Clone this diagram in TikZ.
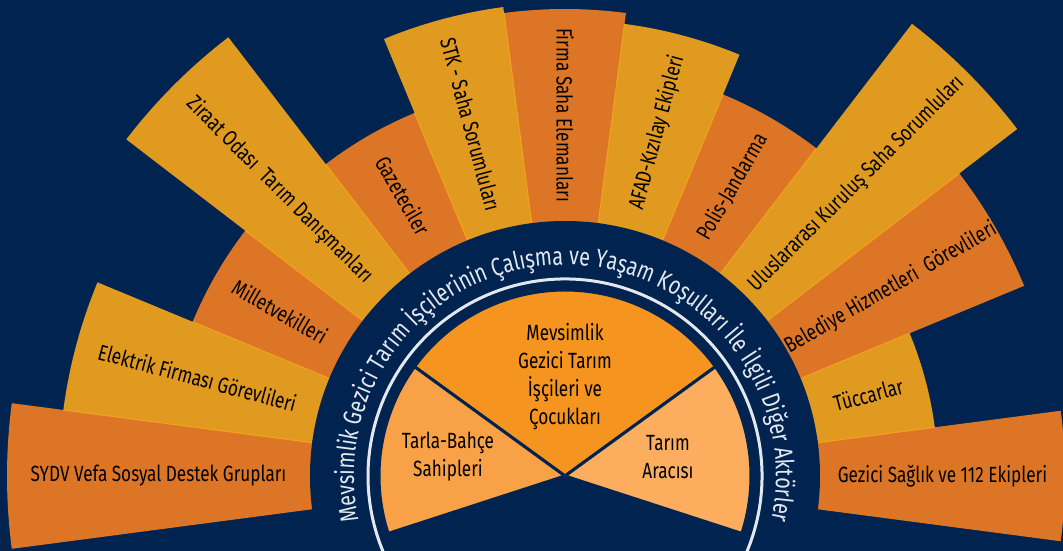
\documentclass[tikz,border=0pt]{standalone}
\usepackage{fontspec}
\setmainfont{Fira Sans}[FakeStretch=0.78]
\newfontfamily\ringfont{Fira Sans}[FakeStretch=0.78]
\usetikzlibrary{decorations.text}
\definecolor{navybg}{HTML}{00244F}
\definecolor{darkor}{HTML}{DC7626}
\definecolor{goldor}{HTML}{E09A20}
\definecolor{sepline}{HTML}{F5A21E}
\definecolor{coreor}{HTML}{F5941F}
\definecolor{leftor}{HTML}{F9A146}
\definecolor{rightor}{HTML}{FCAE5E}
\definecolor{ringtext}{HTML}{E3E8F0}

\begin{document}
\begin{tikzpicture}[x=1pt,y=1pt,
    wedgelabel/.style={font=\fontsize{22}{24}\selectfont, text=black},
    corelabel/.style={font=\fontsize{22}{28}\selectfont, text=black, align=center},
    inner/.style={draw=navybg, line width=3pt}]
  \useasboundingbox (-565,-75) rectangle (498,476);
  \clip (-565,-75) rectangle (498,476);
  \fill[navybg] (-565,-75) rectangle (498,476);
  \foreach \ang/\rad/\col/\rot/\txt [count=\k] in {
      180/558/darkor/0/SYDV Vefa Sosyal Destek Grupları,
      165/506/goldor/-15/Elektrik Firması Görevlileri,
      150/403/darkor/-30/Milletvekilleri,
      135/553/goldor/-45/Ziraat Odası\ \ Tarım Danışmanları,
      120/393/darkor/-60/Gazeteciler,
      105/473/goldor/-75/STK - Saha Sorumluları,
      90/467/darkor/-90/Firma Saha Elemanları,
      75/456/goldor/75/AFAD-Kızılay Ekipleri,
      60/413/darkor/60/Polis-Jandarma,
      45/570/goldor/45/Uluslararası Kuruluş Saha Sorumluları,
      30/497/darkor/30/Belediye Hizmetleri\ \ Görevlileri,
      15/373/goldor/15/Tüccarlar,
      0/500/darkor/0/Gezici Sağlık ve 112 Ekipleri}
  {
    \fill[\col] (\ang-7.5:255) -- (\ang-7.5:\rad) arc[start angle=\ang-7.5, end angle=\ang+7.5, radius=\rad]
      -- (\ang+7.5:255) -- cycle;
    \node[wedgelabel, rotate=\rot] (lbl\k) at (\ang:{(\rad+255)/2}) {\txt};
  }
  \foreach \ang/\rad in {172.5/506, 157.5/403, 142.5/403, 127.5/393, 112.5/393, 97.5/467,
      82.5/456, 67.5/413, 52.5/413, 37.5/497, 22.5/373, 7.5/373}
    \draw[sepline, line width=1pt] (\ang:255) -- (\ang:\rad);
  \fill[navybg] (0,0) circle (255);
  \draw[ringtext, line width=3pt] (-23:197) arc[start angle=-23, end angle=203, radius=197];
  \path[decorate, decoration={text along path, text align=center, text color=ringtext,
      text={|\ringfont\fontsize{25.5}{27}\selectfont|Mevsimlik Gezici Tarım İşçilerinin Çalışma ve Yaşam Koşulları İle İlgili Diğer Aktörler}}]
    (199:211) arc[start angle=199, end angle=-19, radius=211];
  \filldraw[inner, fill=coreor] (0,0) -- (36:186) arc[start angle=36, end angle=144, radius=186] -- cycle;
  \filldraw[inner, fill=leftor] (0,0) -- (144:186) arc[start angle=144, end angle=198, radius=186] -- cycle;
  \filldraw[inner, fill=rightor] (0,0) -- (-18:186) arc[start angle=-18, end angle=36, radius=186] -- cycle;
  \node[corelabel] (core) at (0,99) {Mevsimlik\\Gezici Tarım\\İşçileri ve\\Çocukları};
  \node[corelabel] (owners) at (-117,19) {Tarla-Bahçe\\Sahipleri};
  \node[corelabel] (broker) at (103,19) {Tarım\\Aracısı};
\end{tikzpicture}
\end{document}
